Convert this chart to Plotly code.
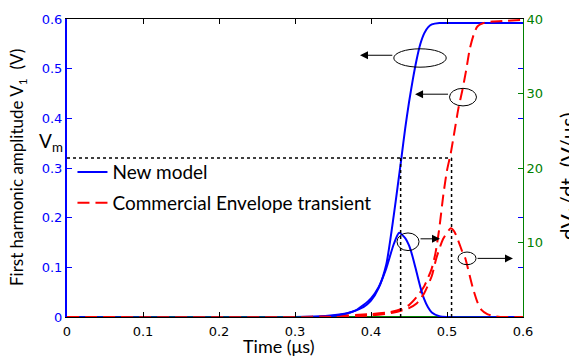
import plotly.graph_objects as go

# ---- data ----
t_blue_v1 = [0, 0.30, 0.34, 0.37, 0.39, 0.40, 0.41, 0.42, 0.43, 0.435, 0.44, 0.445,
             0.45, 0.455, 0.46, 0.465, 0.47, 0.475, 0.48, 0.49, 0.50, 0.60]
v_blue_v1 = [0, 0, 0.002, 0.008, 0.02, 0.033, 0.058, 0.105, 0.205, 0.262, 0.32, 0.38,
             0.432, 0.478, 0.518, 0.55, 0.571, 0.583, 0.589, 0.592, 0.592, 0.592]

t_blue_dv = [0, 0.33, 0.36, 0.38, 0.39, 0.40, 0.41, 0.42, 0.43, 0.437, 0.445, 0.45,
             0.455, 0.46, 0.465, 0.47, 0.475, 0.48, 0.49, 0.50, 0.60]
d_blue_dv = [0, 0, 0.3, 0.9, 1.6, 2.5, 4.0, 6.5, 9.8, 11.3, 10.6, 9.6,
             8.0, 6.0, 4.0, 2.4, 1.3, 0.6, 0.1, 0, 0]

t_red_v1 = [0, 0.30, 0.35, 0.40, 0.425, 0.44, 0.45, 0.46, 0.47, 0.48, 0.485, 0.49,
            0.495, 0.50, 0.505, 0.51, 0.515, 0.52, 0.525, 0.53, 0.535, 0.54, 0.55, 0.56, 0.60]
v_red_v1 = [0, 0, 0.002, 0.006, 0.01, 0.016, 0.024, 0.04, 0.062, 0.098, 0.13, 0.18,
            0.244, 0.295, 0.33, 0.375, 0.42, 0.455, 0.495, 0.54, 0.568, 0.585, 0.593, 0.595, 0.598]

t_red_dv = [0, 0.35, 0.40, 0.43, 0.45, 0.46, 0.47, 0.48, 0.486, 0.495, 0.505, 0.51,
            0.515, 0.52, 0.524, 0.53, 0.534, 0.54, 0.545, 0.553, 0.56, 0.57, 0.60]
d_red_dv = [0, 0, 0.2, 0.6, 1.2, 1.8, 3.2, 5.5, 7.9, 10.5, 11.9, 11.4,
            10.2, 8.8, 7.9, 5.5, 3.9, 2.0, 1.0, 0.4, 0.15, 0, 0]

t_green = [0, 0.60]
d_green = [0, 0]

x_ticks = [0, 0.1, 0.2, 0.3, 0.4, 0.5, 0.6]
x_ticklabels = ["0", "0.1", "0.2", "0.3", "0.4", "0.5", "0.6"]
y_ticks = [0, 0.1, 0.2, 0.3, 0.4, 0.5, 0.6]
y_ticklabels = ["0", "0.1", "0.2", "0.3", "0.4", "0.5", "0.6"]
y2_ticks = [10, 20, 30, 40]
y2_ticklabels = ["10", "20", "30", "40"]

v_m = 0.32
t_m_new = 0.439
t_m_env = 0.506

BLUE = "#0000FF"
RED = "#FF0000"
GREEN = "#008000"
TXT = "Lato"
TICK = "DejaVu Sans"

fig = go.Figure()

fig.add_trace(go.Scatter(x=t_green, y=d_green, yaxis="y2", mode="lines",
                         line=dict(color=GREEN, width=2), showlegend=False))
fig.add_trace(go.Scatter(x=t_blue_v1, y=v_blue_v1, mode="lines", name="New model",
                         line=dict(color=BLUE, width=2, shape="spline", smoothing=0.6),
                         legendgroup="a"))
fig.add_trace(go.Scatter(x=t_blue_dv, y=d_blue_dv, yaxis="y2", mode="lines",
                         line=dict(color=BLUE, width=2, shape="spline", smoothing=0.6),
                         showlegend=False))
fig.add_trace(go.Scatter(x=t_red_v1, y=v_red_v1, mode="lines", name="Commercial Envelope transient",
                         line=dict(color=RED, width=2, dash="12px,6px", shape="spline", smoothing=0.6),
                         legendgroup="b"))
fig.add_trace(go.Scatter(x=t_red_dv, y=d_red_dv, yaxis="y2", mode="lines",
                         line=dict(color=RED, width=2, dash="12px,6px", shape="spline", smoothing=0.6),
                         showlegend=False))

shapes = []
dot = dict(color="black", width=1.5, dash="dot")
shapes.append(dict(type="line", xref="x", yref="y", x0=0, x1=t_m_env, y0=v_m, y1=v_m, line=dot))
shapes.append(dict(type="line", xref="x", yref="y", x0=t_m_new, x1=t_m_new, y0=0, y1=v_m, line=dot))
shapes.append(dict(type="line", xref="x", yref="y", x0=t_m_env, x1=t_m_env, y0=0, y1=v_m, line=dot))

ellipses = [(0.430, 0.499, 0.503, 0.540),
            (0.5033, 0.5388, 0.425, 0.4604),
            (0.4342, 0.4632, 0.1338, 0.1692),
            (0.5145, 0.5382, 0.1053, 0.1308)]
for x0, x1, y0, y1 in ellipses:
    shapes.append(dict(type="circle", xref="x", yref="y", x0=x0, x1=x1, y0=y0, y1=y1,
                       line=dict(color="black", width=1)))

annotations = []
arrows = [(0.430, 0.3855, 0.527), (0.5033, 0.458, 0.4486),
          (0.4632, 0.4908, 0.1574), (0.5382, 0.5868, 0.118)]
for tail, head, yv in arrows:
    annotations.append(dict(x=head, y=yv, ax=tail, ay=yv, xref="x", yref="y",
                            axref="x", ayref="y", text="", showarrow=True,
                            arrowhead=2, arrowsize=1.6, arrowwidth=1, arrowcolor="black"))

annotations.append(dict(x=-0.004, y=v_m, xref="paper", yref="y", text="V<sub>m</sub>",
                        showarrow=False, xanchor="right", yanchor="bottom",
                        font=dict(family=TXT, size=19, color="black"), yshift=1))
annotations.append(dict(x=(18 - 67) / 456, y=0.5, xref="paper", yref="paper",
                        xanchor="center", yanchor="middle",
                        text="First harmonic amplitude V<sub>1</sub>  (V)", textangle=-90,
                        showarrow=False, font=dict(family=TXT, size=17, color="black")))
annotations.append(dict(x=(569 - 67) / 456, y=(317 - 173) / 305, xref="paper", yref="paper",
                        xanchor="center", yanchor="middle",
                        text="dV<sub>1</sub>/dt  (V/\u03bcs)", textangle=-90,
                        showarrow=False, font=dict(family=TXT, size=21, color="black")))
annotations.append(dict(x=(279 - 67) / 456, y=-0.098, xref="paper", yref="paper",
                        xanchor="center", text="Time (\u03bcs)", showarrow=False,
                        yanchor="middle", font=dict(family=TXT, size=18, color="black")))

fig.update_layout(
    width=569, height=358,
    margin=dict(l=67, r=46, t=12, b=41),
    plot_bgcolor="white", paper_bgcolor="white",
    showlegend=True,
    legend=dict(x=0.012, y=0.55, xanchor="left", yanchor="top", bgcolor="rgba(0,0,0,0)",
                font=dict(family=TXT, size=19, color="black"), tracegroupgap=3,
                itemwidth=30),
    xaxis=dict(range=[0, 0.6], tickvals=x_ticks, ticktext=x_ticklabels,
               ticks="inside", ticklen=5, tickcolor="black", showline=True,
               linecolor="black", linewidth=1, mirror="ticks", showgrid=False,
               zeroline=False, tickfont=dict(family=TICK, size=13, color="black"),
               ticklabelstandoff=2),
    yaxis=dict(range=[0, 0.6], tickvals=y_ticks, ticktext=y_ticklabels,
               ticks="inside", ticklen=5, tickcolor=BLUE, showline=True,
               linecolor=BLUE, linewidth=2, showgrid=False, zeroline=False,
               tickfont=dict(family=TICK, size=13, color=BLUE)),
    yaxis2=dict(range=[0, 40], overlaying="y", side="right", tickvals=y2_ticks,
                ticktext=y2_ticklabels, ticks="inside", ticklen=5, tickcolor=GREEN,
                showline=True, linecolor=GREEN, linewidth=1, showgrid=False,
                zeroline=False, tickfont=dict(family=TICK, size=13, color=GREEN),
                minor=dict(tickvals=[20 / 3, 40 / 3, 80 / 3, 100 / 3], ticks="inside",
                           ticklen=5, tickcolor=BLUE)),
    shapes=shapes, annotations=annotations,
)

fig.write_html("out.html")
